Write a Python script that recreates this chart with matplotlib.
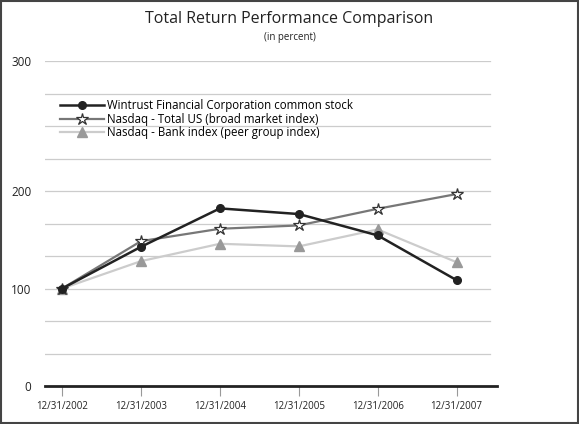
import matplotlib
matplotlib.use("Agg")
import matplotlib.pyplot as plt
from matplotlib.patches import Rectangle

dates = ["12/31/2002", "12/31/2003", "12/31/2004", "12/31/2005", "12/31/2006", "12/31/2007"]
wintrust = [100, 142.8, 182.2, 176.4, 154.5, 108.6]
nasdaq_total = [100, 148.6, 161.3, 164.7, 181.8, 196.9]
nasdaq_bank = [100, 128.1, 145.9, 143.2, 160.6, 127.0]

plt.rcParams['font.family'] = ['Open Sans', 'DejaVu Sans']
fig = plt.figure(figsize=(5.79, 4.24), dpi=100)
fig.patches.append(Rectangle((0.002, 0.002), 0.996, 0.996, transform=fig.transFigure,
                             fill=False, edgecolor='#444444', lw=1.5))
ax = fig.add_axes([0.078, 0.0896, 0.78, 0.7664])
x = list(range(len(dates)))
top = 1000/3
for i in range(1, 11):
    ax.axhline(i*top/10, color='#cccccc', lw=0.9, xmax=0.985, zorder=0)
ax.plot(x, nasdaq_bank, color='#cccccc', lw=1.6, marker='^', ms=7, mfc='#999999', mec='#999999', label='Nasdaq - Bank index (peer group index)', zorder=2)
ax.plot(x, nasdaq_total, color='#777777', lw=1.6, marker='*', ms=9, mfc='white', mec='#333333', mew=0.9, label='Nasdaq - Total US (broad market index)', zorder=3)
ax.plot(x, wintrust, color='#222222', lw=1.8, marker='o', ms=5.5, label='Wintrust Financial Corporation common stock', zorder=4)
ax.set_xlim(-0.215, 5.51)
ax.set_ylim(0, top)
ax.set_yticks([0, 100, 200, top])
ax.set_yticklabels(['0', '100', '200', '300'], fontsize=8.5, color='#222222')
ax.tick_params(axis='y', length=0, pad=10)
ax.set_xticks(x)
ax.set_xticklabels(dates, fontsize=7, color='#222222')
ax.tick_params(axis='x', direction='out', length=7, color='#999999', pad=4)
for s in ['top', 'right', 'left']:
    ax.spines[s].set_visible(False)
ax.spines['bottom'].set_linewidth(2)
ax.spines['bottom'].set_color('#222222')
h, l = ax.get_legend_handles_labels()
ax.legend(h[::-1], l[::-1], loc='upper left', bbox_to_anchor=(0.02, 0.9), frameon=False,
          fontsize=8.3, handlelength=3.8, labelspacing=0.05, handletextpad=0.3, borderpad=0)
fig.text(0.5, 0.945, 'Total Return Performance Comparison', ha='center', fontsize=11.5, color='#222222')
fig.text(0.5, 0.905, '(in percent)', ha='center', fontsize=7, color='#222222')
fig.savefig('out.png', dpi=100)
